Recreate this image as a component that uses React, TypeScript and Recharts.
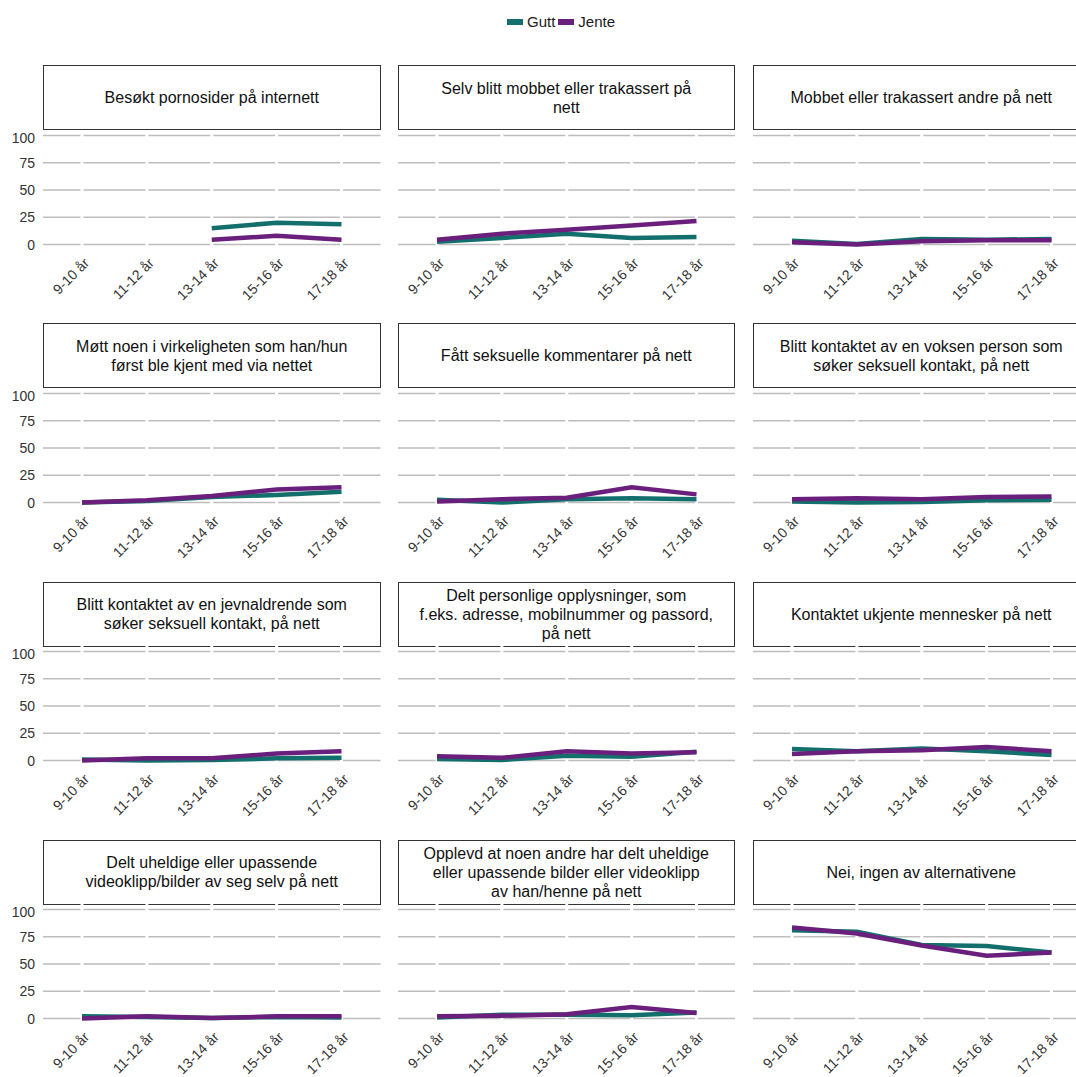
import { CartesianGrid, Line, LineChart, XAxis, YAxis } from "recharts";

const ageGroups = ["9-10 år", "11-12 år", "13-14 år", "15-16 år", "17-18 år"];
const yTicks = [0, 25, 50, 75, 100];

const titlePorno = ["Besøkt pornosider på internett"];
const guttPorno = [null, null, 15, 20, 18.5];
const jentePorno = [null, null, 4.5, 8, 4.5];

const titleMobbetSelv = ["Selv blitt mobbet eller trakassert på", "nett"];
const guttMobbetSelv = [2.5, 6, 10, 6, 7];
const jenteMobbetSelv = [4.5, 10, 13.5, 17.5, 21.5];

const titleMobbetAndre = ["Mobbet eller trakassert andre på nett"];
const guttMobbetAndre = [3.5, 0.5, 5, 4.5, 5];
const jenteMobbetAndre = [2, 0, 3, 4, 4];

const titleMott = ["Møtt noen i virkeligheten som han/hun", "først ble kjent med via nettet"];
const guttMott = [0, 1.5, 5, 7, 10];
const jenteMott = [0, 2, 6, 12, 14];

const titleKommentarer = ["Fått seksuelle kommentarer på nett"];
const guttKommentarer = [2.5, 0, 3, 4, 3];
const jenteKommentarer = [1, 3, 4.5, 14, 7.5];

const titleVoksen = ["Blitt kontaktet av en voksen person som", "søker seksuell kontakt, på nett"];
const guttVoksen = [1, 0, 0.5, 2, 2.5];
const jenteVoksen = [3, 4, 3, 5, 5.5];

const titleJevnaldrende = ["Blitt kontaktet av en jevnaldrende som", "søker seksuell kontakt, på nett"];
const guttJevnaldrende = [1, 0, 0.5, 2, 2.5];
const jenteJevnaldrende = [0, 2, 2, 6.5, 8.5];

const titlePersonlige = [
  "Delt personlige opplysninger, som",
  "f.eks. adresse, mobilnummer og passord,",
  "på nett"
];
const guttPersonlige = [1.5, 0.5, 4.5, 3.5, 8];
const jentePersonlige = [4, 2.5, 8.5, 6.5, 7.5];

const titleUkjente = ["Kontaktet ukjente mennesker på nett"];
const guttUkjente = [10.5, 8.5, 11, 8.5, 5];
const jenteUkjente = [6, 8.5, 9.5, 12.5, 8.5];

const titleVideo = ["Delt uheldige eller upassende", "videoklipp/bilder av seg selv på nett"];
const guttVideo = [2, 1.5, 0.5, 1.5, 1];
const jenteVideo = [0, 2, 0.5, 2, 2];

const titleOpplevd = [
  "Opplevd at noen andre har delt uheldige",
  "eller upassende bilder eller videoklipp",
  "av han/henne på nett"
];
const guttOpplevd = [1, 3.5, 3.5, 3, 5.5];
const jenteOpplevd = [2, 2.5, 4, 10.5, 5];

const titleIngen = ["Nei, ingen av alternativene"];
const guttIngen = [81, 79.5, 67.5, 66.5, 60.5];
const jenteIngen = [83.5, 78, 67, 57.5, 60.5];

const panels = [
  [titlePorno, guttPorno, jentePorno],
  [titleMobbetSelv, guttMobbetSelv, jenteMobbetSelv],
  [titleMobbetAndre, guttMobbetAndre, jenteMobbetAndre],
  [titleMott, guttMott, jenteMott],
  [titleKommentarer, guttKommentarer, jenteKommentarer],
  [titleVoksen, guttVoksen, jenteVoksen],
  [titleJevnaldrende, guttJevnaldrende, jenteJevnaldrende],
  [titlePersonlige, guttPersonlige, jentePersonlige],
  [titleUkjente, guttUkjente, jenteUkjente],
  [titleVideo, guttVideo, jenteVideo],
  [titleOpplevd, guttOpplevd, jenteOpplevd],
  [titleIngen, guttIngen, jenteIngen]
];

const GUTT = "#136f6c";
const JENTE = "#6b1f7c";
const FONT = "Arial, 'Liberation Sans', sans-serif";

const colLeft = [43, 397.5, 752.5];
const plotWidth = 337.5;
const axisWidth = 43;
const plotHeight = 120;
const rowTop = (r: number) => 135 + r * 258.3;

function AgeTick(props: any) {
  const { x, y, payload } = props;
  const ax = x + 8;
  const ay = y + 14;
  return (
    <text
      x={ax}
      y={ay}
      transform={`rotate(-45, ${ax}, ${ay})`}
      textAnchor="end"
      fontSize={14}
      fontFamily={FONT}
      fill="#333"
    >
      {payload.value}
    </text>
  );
}

const NoTick = () => <g />;

function Panel({ index }: { index: number }) {
  const [title, gutt, jente] = panels[index] as [string[], (number | null)[], (number | null)[]];
  const col = index % 3;
  const row = Math.floor(index / 3);
  const y100 = rowTop(row);
  const data = ageGroups.map((age, i) => ({ age, gutt: gutt[i], jente: jente[i] }));

  return (
    <>
      <div
        style={{
          position: "absolute",
          left: colLeft[col],
          top: y100 - 70,
          width: plotWidth,
          height: 65,
          boxSizing: "border-box",
          border: "1.5px solid #333",
          background: "#fff",
          display: "flex",
          flexDirection: "column",
          alignItems: "center",
          justifyContent: "center",
          textAlign: "center",
          fontSize: 16,
          lineHeight: "19px",
          color: "#111",
          whiteSpace: "nowrap"
        }}
      >
        {title.map((line) => (
          <div key={line}>{line}</div>
        ))}
      </div>
      <div style={{ position: "absolute", left: colLeft[col] - axisWidth, top: y100 - 5.45 }}>
        <LineChart
          width={axisWidth + plotWidth}
          height={plotHeight + 60}
          data={data}
          margin={{ top: 0, right: 0, bottom: 0, left: 0 }}
        >
          <CartesianGrid vertical={false} syncWithTicks stroke="#bdbdbd" strokeWidth={1.6} />
          <CartesianGrid horizontal={false} syncWithTicks stroke="#ffffff" strokeWidth={3} />
          <XAxis
            dataKey="age"
            axisLine={false}
            tickLine={false}
            tickSize={0}
            tickMargin={0}
            interval={0}
            height={60}
            padding={{ left: 39, right: 39 }}
            tick={<AgeTick />}
          />
          <YAxis
            type="number"
            domain={[-5, 105]}
            ticks={yTicks}
            allowDataOverflow
            width={axisWidth}
            axisLine={false}
            tickLine={false}
            tick={col === 0 ? { fontSize: 14, fill: "#333", fontFamily: FONT } : <NoTick />}
          />
          <Line
            dataKey="gutt"
            name="Gutt"
            stroke={GUTT}
            strokeWidth={4.5}
            dot={false}
            type="linear"
            isAnimationActive={false}
          />
          <Line
            dataKey="jente"
            name="Jente"
            stroke={JENTE}
            strokeWidth={4.5}
            dot={false}
            type="linear"
            isAnimationActive={false}
          />
        </LineChart>
      </div>
    </>
  );
}

export default function App() {
  return (
    <div
      style={{
        position: "absolute",
        left: 0,
        top: 0,
        width: 1076,
        height: 1077,
        overflow: "hidden",
        background: "#fff",
        fontFamily: FONT
      }}
    >
      <div
        style={{
          position: "absolute",
          left: 507,
          top: 13,
          display: "flex",
          alignItems: "center",
          fontSize: 15,
          color: "#1a1a1a"
        }}
      >
        <span style={{ display: "inline-block", width: 16, height: 6, background: GUTT, marginRight: 4 }} />
        <span style={{ marginRight: 3 }}>Gutt</span>
        <span style={{ display: "inline-block", width: 16, height: 6, background: JENTE, marginRight: 4 }} />
        <span>Jente</span>
      </div>
      {panels.map((_, i) => (
        <Panel key={i} index={i} />
      ))}
    </div>
  );
}
